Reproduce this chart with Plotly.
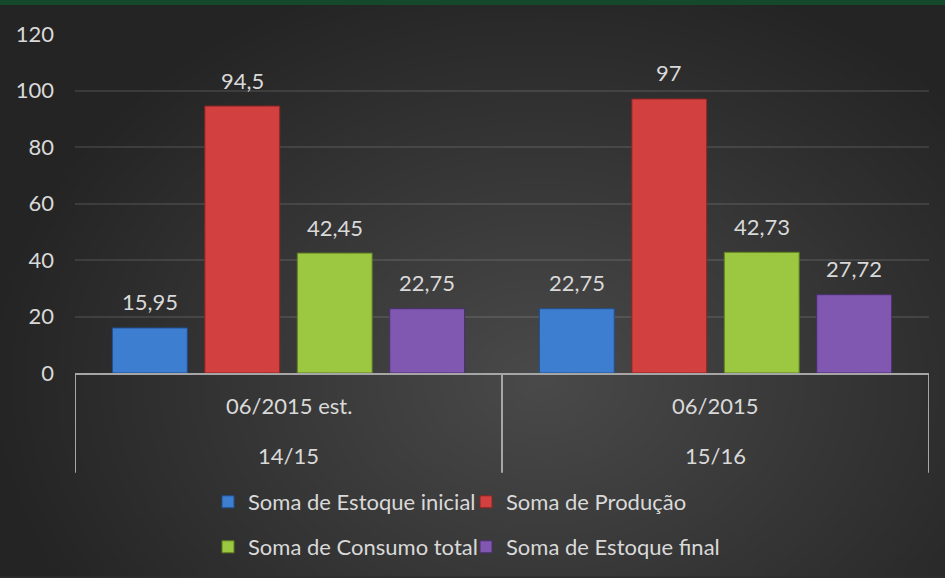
import zlib, struct, base64
import numpy as np
import plotly.graph_objects as go

# ---------------- data ----------------
periods = ["06/2015 est.", "06/2015"]
seasons = ["14/15", "15/16"]
series_names = ["Soma de Estoque inicial", "Soma de Produção",
                "Soma de Consumo total", "Soma de Estoque final"]
estoque_inicial = [15.95, 22.75]
producao = [94.5, 97]
consumo_total = [42.45, 42.73]
estoque_final = [22.75, 27.72]
y_ticks = [0, 20, 40, 60, 80, 100, 120]

series_values = [estoque_inicial, producao, consumo_total, estoque_final]
colors = ["#3e7ed0", "#d2413f", "#9cc740", "#8058b2"]
edge_colors = ["#1f4f8f", "#8a2524", "#5e7d22", "#4a2f6e"]

# ---------------- layout constants ----------------
W, H = 945, 578
ML, MR, MT, MB = 75, 16, 34, 204
PW, PH = W - ML - MR, H - MT - MB
BARGAP = 0.134
BARGROUPGAP = 0.19
FONT = "Lato"
FS = 22
TXT = "#d9d9d9"


def px_y(p):  # pixel row -> paper y
    return (H - MB - p) / PH


def px_x(p):  # pixel col -> paper x
    return (p - ML) / PW


def png_data_uri(arr):
    h, w, _ = arr.shape
    raw = b"".join(b"\x00" + arr[r].tobytes() for r in range(h))

    def chunk(t, d):
        c = struct.pack(">I", len(d)) + t + d
        return c + struct.pack(">I", zlib.crc32(t + d) & 0xffffffff)

    png = (b"\x89PNG\r\n\x1a\n"
           + chunk(b"IHDR", struct.pack(">IIBBBBB", w, h, 8, 2, 0, 0, 0))
           + chunk(b"IDAT", zlib.compress(raw, 9))
           + chunk(b"IEND", b""))
    return "data:image/png;base64," + base64.b64encode(png).decode()


# background gradient (radial, lighter centre)
gw, gh = 315, 193
yy, xx = np.mgrid[0:gh, 0:gw]
cx, cy = 540 / 3, 380 / 3
d = np.sqrt(((xx - cx) / (560 / 3)) ** 2 + ((yy - cy) / (430 / 3)) ** 2)
t = np.clip(d, 0, 1)
inner, outer = 74, 36
val = (inner + (outer - inner) * t).astype(np.uint8)
bg = np.stack([val, val, val], axis=-1)
bg_uri = png_data_uri(bg)

fig = go.Figure()
for name, vals, col, ec in zip(series_names, series_values, colors, edge_colors):
    fig.add_trace(go.Bar(
        x=periods, y=vals, name=name,
        marker=dict(color=col, line=dict(color=ec, width=1)),
        legend="legend" if name in series_names[:2] else "legend2",
        hoverinfo="x+y+name",
    ))

# value labels above the bars
slot = PW / len(periods) * (1 - BARGAP) / len(series_names)
annotations = []
for i, vals in enumerate(series_values):
    for period, v in zip(periods, vals):
        annotations.append(dict(
            x=period, y=v, xref="x", yref="y",
            text=(f"{v:g}").replace(".", ","),
            showarrow=False, xshift=(i - 1.5) * slot, yshift=26,
            yanchor="middle", font=dict(family=FONT, size=FS, color=TXT)))

# multi-level category labels
for period, season in zip(periods, seasons):
    annotations.append(dict(x=period, y=px_y(407), xref="x", yref="paper",
                            text=period, showarrow=False, yanchor="middle",
                            font=dict(family=FONT, size=FS, color=TXT)))
    annotations.append(dict(x=period, y=px_y(457), xref="x", yref="paper",
                            text=season, showarrow=False, yanchor="middle",
                            font=dict(family=FONT, size=FS, color=TXT)))

shapes = []
for xv in [-0.5, 0.5, 1.5]:
    shapes.append(dict(type="line", xref="x", yref="paper", x0=xv, x1=xv,
                       y0=0, y1=px_y(474), line=dict(color="#a6a6a6", width=2)))
# green top band
shapes.append(dict(type="rect", xref="paper", yref="paper",
                   x0=px_x(0), x1=px_x(W), y0=px_y(5), y1=px_y(0),
                   fillcolor="#144a2b", line=dict(width=0), layer="above"))

legend_common = dict(orientation="h", xanchor="left", yanchor="middle",
                     font=dict(family=FONT, size=FS, color=TXT),
                     bgcolor="rgba(0,0,0,0)", entrywidth=213,
                     itemclick=False, itemdoubleclick=False,
                     traceorder="normal")

fig.update_layout(
    width=W, height=H,
    margin=dict(l=ML, r=MR, t=MT, b=MB),
    paper_bgcolor="#2e2e2e",
    plot_bgcolor="rgba(0,0,0,0)",
    barmode="group", bargap=BARGAP, bargroupgap=BARGROUPGAP,
    font=dict(family=FONT, size=FS, color=TXT),
    xaxis=dict(type="category", showticklabels=False, showgrid=False,
               showline=True, linecolor="#a6a6a6", linewidth=2,
               ticks="", range=[-0.5, 1.5], fixedrange=True),
    yaxis=dict(range=[0, 120], tickvals=y_ticks, showgrid=True,
               gridcolor="rgba(255,255,255,0.10)", gridwidth=2,
               zeroline=False, showline=False, ticks="",
               ticklabelstandoff=20,
               tickfont=dict(family=FONT, size=FS, color=TXT), fixedrange=True),
    legend=dict(x=px_x(208), y=px_y(502), **legend_common),
    legend2=dict(x=px_x(208), y=px_y(547), **legend_common),
    annotations=annotations,
    shapes=shapes,
    images=[dict(source=bg_uri, xref="paper", yref="paper",
                 x=px_x(0), y=px_y(0), sizex=W / PW, sizey=H / PH,
                 xanchor="left", yanchor="top", sizing="stretch",
                 layer="below")],
    showlegend=True,
)

fig.write_html("out.html",
               config={"displayModeBar": False},
               post_script="document.body.style.margin='0';"
                           "document.body.style.background='#2e2e2e';")
